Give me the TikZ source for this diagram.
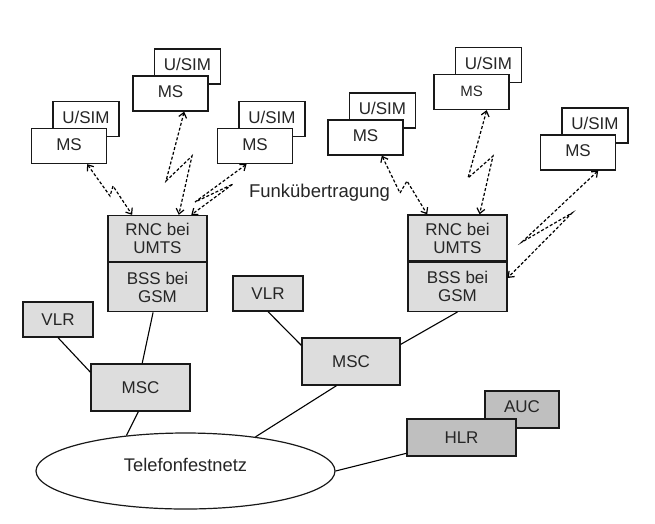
\documentclass[tikz,border=0pt]{standalone}
\usepackage{fontspec}
\setmainfont{Liberation Sans}
\usetikzlibrary{positioning, shapes, arrows.meta}

\begin{document}
\begin{tikzpicture}[x=1pt, y=-1pt,
		every node/.style={text=black!85, font=\fontsize{17}{18}\selectfont},
		kasten/.style={rectangle, draw=black!90, line width=1.3pt, inner sep=0pt},
		weiss/.style={kasten, fill=white, minimum width=75pt, minimum height=35pt, text height=12pt, text depth=4pt},
		sim/.style={kasten, fill=white, minimum width=66pt, minimum height=35pt, text height=12pt, text depth=4pt},
		hell/.style={kasten, fill=gray!27, align=center},
		dunkel/.style={kasten, fill=gray!50, minimum height=37pt},
		funkpfeil/.style={{Straight Barb[length=5pt,width=8pt]}-{Straight Barb[length=5pt,width=8pt]}, line width=1.2pt, dash pattern=on 3pt off 2pt},
		linie/.style={line width=1.1pt}
		]
		\path[use as bounding box, fill=white] (0,0) rectangle (655,523);
		
		% Mobilstationen links
		\node[sim] (sim1) at (86,119) {U/SIM};
		\node[weiss] (ms1) at ([shift={(-17,27)}]sim1.center) {MS};
		\node[sim] (sim2) at (187.5,66.5) {U/SIM};
		\node[weiss] (ms2) at ([shift={(-17,27)}]sim2.center) {MS};
		\node[sim] (sim3) at (272,119) {U/SIM};
		\node[weiss] (ms3) at ([shift={(-17,27)}]sim3.center) {MS};
		
		% Mobilstationen rechts
		\node[sim] (sim4) at (382.5,110.5) {U/SIM};
		\node[weiss] (ms4) at ([shift={(-17,27)}]sim4.center) {MS};
		\node[sim] (sim5) at (488.5,65) {U/SIM};
		\node[weiss, font=\fontsize{15}{16}\selectfont] (ms5) at ([shift={(-17,27)}]sim5.center) {MS};
		\node[sim] (sim6) at (595,125.5) {U/SIM};
		\node[weiss] (ms6) at ([shift={(-17,27)}]sim6.center) {MS};
		
		% Funknetz
		\node[hell, minimum width=99pt, minimum height=46pt] (rncl) at (157.5,238.5) {RNC bei\\UMTS};
		\node[hell, minimum width=99pt, minimum height=49pt, below=0pt of rncl] (bssl) {BSS bei\\GSM};
		\node[hell, minimum width=99pt, minimum height=46pt] (rncr) at (457.5,238) {RNC bei\\UMTS};
		\node[hell, minimum width=99pt, minimum height=49pt, below=0pt of rncr] (bssr) {BSS bei\\GSM};
		
		\node[font=\fontsize{18.5}{20}\selectfont, anchor=base] (funktext) at (319.5,197.7) {Funkübertragung};
		
		% Vermittlung
		\node[hell, minimum width=70pt, minimum height=35pt] (vlrl) at (58,319.5) {VLR};
		\node[hell, minimum width=99pt, minimum height=47pt] (mscl) at (140.5,387.5) {MSC};
		\node[hell, minimum width=70pt, minimum height=35pt] (vlrr) at (268,293.5) {VLR};
		\node[hell, minimum width=98pt, minimum height=47pt] (mscr) at (351,361.5) {MSC};
		
		\node[dunkel, minimum width=74pt, text height=12pt, text depth=6pt] (auc) at (522,409.5) {AUC};
		\node[dunkel, minimum width=109pt] (hlr) at (461.5,437.5) {HLR};
		
		\node[ellipse, draw=black!90, line width=1.2pt, fill=white, inner sep=0pt, minimum width=299pt, minimum height=76pt, text height=12pt, text depth=11pt, font=\fontsize{18.3}{20}\selectfont] (netz) at (185.5,471) {Telefonfestnetz};
		
		% Knickpunkte der Funkpfeile
		\coordinate (za1) at (110,196);
		\coordinate (za2) at (113,186);
		\coordinate (zb1) at (166,181);
		\coordinate (zb2) at (192,156);
		\coordinate (zc1) at (195,202);
		\coordinate (zc2) at (233,184);
		\coordinate (zd1) at (400,193);
		\coordinate (zd2) at (407,181);
		\coordinate (ze1) at (468,178);
		\coordinate (ze2) at (493,156);
		\coordinate (zf1) at (522,242);
		\coordinate (zf2) at (572,213);
		
		% Funkpfeile
		\draw[funkpfeil] (ms1.315) -- (za1) -- (za2) -- (rncl.137);
		\draw[funkpfeil] (ms2.307) -- (zb1) -- (zb2) -- (rncl.48);
		\draw[funkpfeil] (ms3.245) -- (zc1) -- (zc2) -- (rncl.35);
		\draw[funkpfeil] (ms4.312) -- (zd1) -- (zd2) -- (rncr.142);
		\draw[funkpfeil] (ms5.310) -- (ze1) -- (ze2) -- (rncr.47);
		\draw[funkpfeil] (ms6.318) -- (zf1) -- (zf2) -- (bssr.10);
		
		% Verbindungen
		\draw[linie] (vlrl.south) -- (mscl.163);
		\draw[linie] (bssl.260) -- (mscl.86);
		\draw[linie] (mscl.265) -- (netz.149);
		\draw[linie] (vlrr.south) -- (mscr.162);
		\draw[linie] (bssr.south) -- (mscr.19);
		\draw[linie] (mscr.239) -- (netz.26);
		\draw[linie] (hlr.196) -- (netz.east);
		
	\end{tikzpicture}
\end{document}
